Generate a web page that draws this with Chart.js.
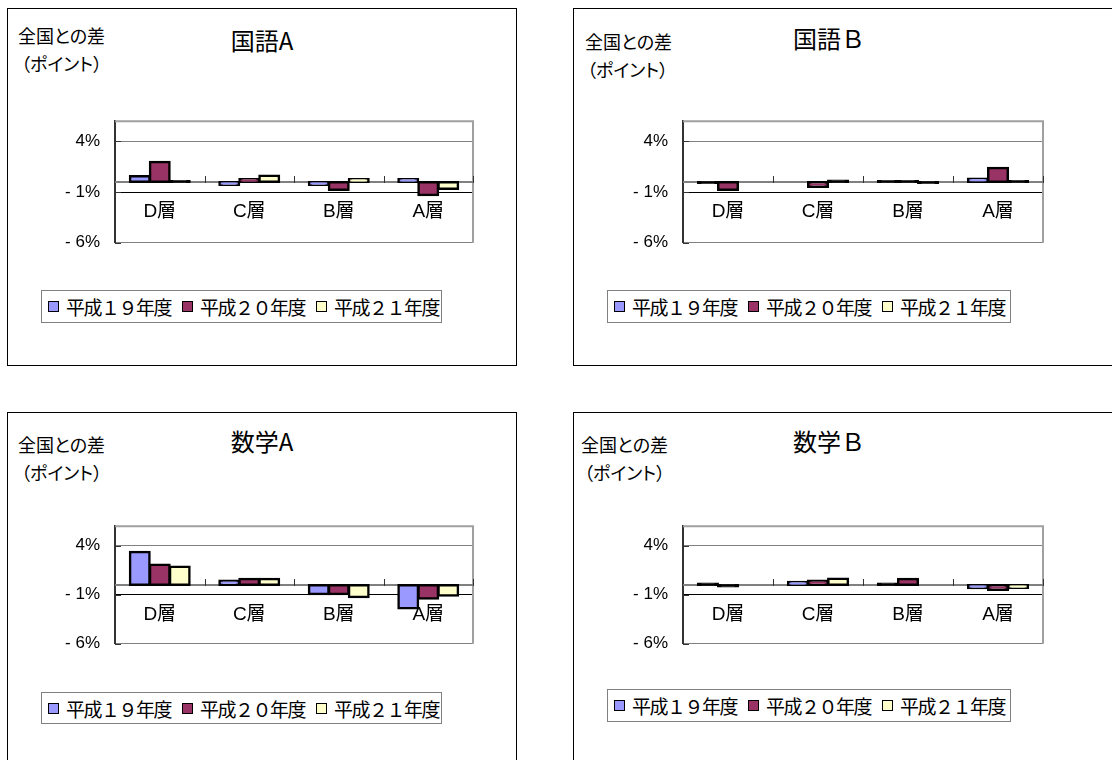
<!DOCTYPE html>
<html lang="ja">
<head>
<meta charset="utf-8">
<script src="https://cdn.jsdelivr.net/npm/chart.js@4/dist/chart.umd.min.js"></script>
<style>
  html, body { margin: 0; padding: 0; background: #fff; }
  body { width: 1112px; height: 760px; position: relative; overflow: hidden;
         font-family: "Noto Sans CJK JP", "Liberation Sans", sans-serif; color: #000; }
  .panel { position: absolute; border: 1px solid #000; box-sizing: border-box; background: #fff; }
  .txt { position: absolute; white-space: nowrap; line-height: 1; }
  .title { font-size: 24px; transform: translate(-50%, -50%); }
  .ylab { font-size: 18px; transform: translateY(-50%); font-feature-settings: "palt"; }
  .legend { position: absolute; border: 1px solid #808080; box-sizing: border-box; background: #fff;
            display: flex; align-items: center; padding-left: 6px; font-size: 19px; letter-spacing: -1.5px;
            overflow: hidden; white-space: nowrap; line-height: 1; }
  .legend .item { display: flex; align-items: center; margin-right: 11px; flex-shrink: 0; }
  .legend .mark { width: 9px; height: 9px; border: 1.5px solid #000; margin-right: 7px; flex-shrink: 0; }
  canvas { position: absolute; }
</style>
</head>
<body>
<script>
// categories, series and axis ticks
const categories = ['D層', 'C層', 'B層', 'A層'];
const seriesLabels = ['平成１９年度', '平成２０年度', '平成２１年度'];
const seriesColors = ['#9999FF', '#993366', '#FFFFCC'];
const yTicks = [-6, -1, 4];

// 国語A
const kokugoA_h19 = [0.6, -0.3, -0.3, 0.3];
const kokugoA_h20 = [2.0, 0.3, -0.8, -1.3];
const kokugoA_h21 = [0.1, 0.65, 0.3, -0.7];
// 国語B
const kokugoB_h19 = [-0.1, 0, 0.1, 0.35];
const kokugoB_h20 = [-0.8, -0.5, 0.1, 1.4];
const kokugoB_h21 = [0, 0.15, -0.1, 0.1];
// 数学A
const sugakuA_h19 = [3.4, 0.45, -0.95, -2.4];
const sugakuA_h20 = [2.1, 0.65, -0.95, -1.4];
const sugakuA_h21 = [1.9, 0.65, -1.25, -1.1];
// 数学B
const sugakuB_h19 = [0.15, 0.33, 0.15, -0.33];
const sugakuB_h20 = [-0.15, 0.47, 0.64, -0.5];
const sugakuB_h21 = [0, 0.67, 0, -0.3];

const panels = [
  { title: '国語A', box: [7, 8, 510, 358], plot: [115, 108, 473, 256], titleX: 262, titleY: 39.5,
    lab1: [18, 35], lab2: [21, 63], legend: [41, 290, 401, 33],
    series: [kokugoA_h19, kokugoA_h20, kokugoA_h21] },
  { title: '国語Ｂ', box: [573, 8, 560, 358], plot: [683, 108, 1043, 256], titleX: 829, titleY: 38,
    lab1: [585, 41], lab2: [587, 68.5], legend: [607, 290, 404, 33],
    series: [kokugoB_h19, kokugoB_h20, kokugoB_h21] },
  { title: '数学A', box: [7, 412, 510, 400], plot: [115, 513, 473, 657], titleX: 262, titleY: 441,
    lab1: [18, 444], lab2: [21, 471.5], legend: [41, 692, 401, 32],
    series: [sugakuA_h19, sugakuA_h20, sugakuA_h21] },
  { title: '数学Ｂ', box: [573, 412, 560, 400], plot: [683, 513, 1043, 657], titleX: 829, titleY: 441,
    lab1: [581, 444], lab2: [584, 471.5], legend: [607, 689, 404, 33],
    series: [sugakuB_h19, sugakuB_h20, sugakuB_h21] }
];

const AXIS_W = 70, PAD = 12;

function line(ctx, x1, y1, x2, y2) {
  ctx.beginPath(); ctx.moveTo(x1, y1); ctx.lineTo(x2, y2); ctx.stroke();
}

// plot frame, zero axis with category ticks, category labels
const decor = {
  id: 'decor',
  beforeDatasetsDraw(chart) {
    const { ctx, chartArea: a, scales: { x, y } } = chart;
    const y0 = Math.round(y.getPixelForValue(0));
    ctx.save();
    ctx.strokeStyle = '#a0a0a0'; ctx.lineWidth = 2;
    ctx.beginPath(); ctx.moveTo(a.left, a.top); ctx.lineTo(a.right, a.top); ctx.lineTo(a.right, a.bottom); ctx.stroke();
    ctx.strokeStyle = '#333'; ctx.lineWidth = 1;
    yTicks.forEach(v => {
      const py = Math.round(y.getPixelForValue(v)) + 0.5;
      line(ctx, a.left, py, a.left + 6, py);
    });
    ctx.strokeStyle = '#808080'; ctx.lineWidth = 2;
    line(ctx, a.left, y0, a.right + 1, y0);
    ctx.strokeStyle = '#333'; ctx.lineWidth = 1;
    for (let i = 0; i < categories.length; i++) {
      const bx = Math.round(x.getPixelForValue(i + 0.5)) + 0.5;
      line(ctx, bx, y0 - 6, bx, y0 + 1);
    }
    ctx.fillStyle = '#000';
    ctx.font = '19px "Liberation Sans", "Noto Sans CJK JP", sans-serif';
    ctx.textAlign = 'center'; ctx.textBaseline = 'middle';
    categories.forEach((c, i) => ctx.fillText(c, x.getPixelForValue(i), y0 + 30));
    ctx.restore();
  }
};

function addDiv(cls, text, x, y) {
  const d = document.createElement('div');
  d.className = 'txt ' + cls;
  d.textContent = text;
  d.style.left = x + 'px';
  d.style.top = y + 'px';
  document.body.appendChild(d);
}

panels.forEach(p => {
  const box = document.createElement('div');
  box.className = 'panel';
  box.style.left = p.box[0] + 'px'; box.style.top = p.box[1] + 'px';
  box.style.width = p.box[2] + 'px'; box.style.height = p.box[3] + 'px';
  document.body.appendChild(box);

  addDiv('title', p.title, p.titleX, p.titleY);
  addDiv('ylab', '全国との差', p.lab1[0], p.lab1[1]);
  addDiv('ylab', '（ポイント）', p.lab2[0], p.lab2[1]);

  const lg = document.createElement('div');
  lg.className = 'legend';
  lg.style.left = p.legend[0] + 'px'; lg.style.top = p.legend[1] + 'px';
  lg.style.width = p.legend[2] + 'px'; lg.style.height = p.legend[3] + 'px';
  seriesLabels.forEach((l, i) => {
    const it = document.createElement('span');
    it.className = 'item';
    it.innerHTML = '<span class="mark" style="background:' + seriesColors[i] + '"></span>' + l;
    lg.appendChild(it);
  });
  document.body.appendChild(lg);

  const [l, t, r, b] = p.plot;
  const cv = document.createElement('canvas');
  cv.width = (r - l) + AXIS_W + PAD;
  cv.height = (b - t) + 2 * PAD;
  cv.style.left = (l - AXIS_W) + 'px';
  cv.style.top = (t - PAD) + 'px';
  document.body.appendChild(cv);

  new Chart(cv, {
    type: 'bar',
    data: {
      labels: categories,
      datasets: seriesLabels.map((label, i) => ({
        label: label,
        data: p.series[i],
        // very short bars come out as solid black strips, like the original
        backgroundColor: ctx => (Math.abs(ctx.raw) < 0.2 ? '#000' : seriesColors[i]),
        borderColor: '#000',
        borderWidth: 2.5,
        borderSkipped: false,
        inflateAmount: ctx => (ctx.raw === 0 ? 0 : 1)
      }))
    },
    options: {
      responsive: false,
      animation: false,
      layout: { padding: { left: 0, top: PAD, right: PAD, bottom: PAD } },
      datasets: { bar: { categoryPercentage: 0.67, barPercentage: 1 } },
      plugins: { legend: { display: false }, tooltip: { enabled: false } },
      scales: {
        x: { display: false },
        y: {
          min: -6, max: 6,
          afterBuildTicks: s => { s.ticks = yTicks.map(v => ({ value: v })); },
          afterFit: s => { s.width = AXIS_W; },
          grid: {
            drawTicks: false,
            lineWidth: 1,
            color: c => (c.tick && c.tick.value === -1 ? '#000' : '#808080')
          },
          border: { color: '#333', width: 2 },
          ticks: {
            padding: 15,
            color: '#000',
            font: { family: '"Liberation Sans", sans-serif', size: 17 },
            callback: v => (v < 0 ? '- ' + Math.abs(v) : v) + '%'
          }
        }
      }
    },
    plugins: [decor]
  });
});
</script>
</body>
</html>
